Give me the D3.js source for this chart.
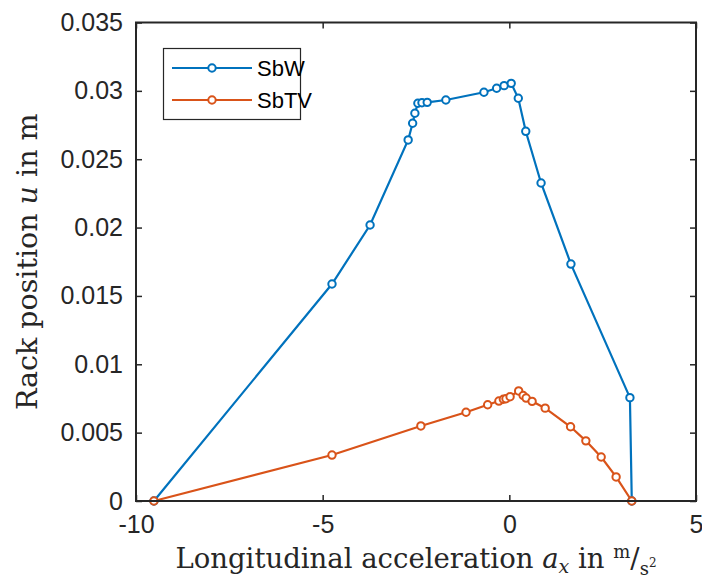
<!DOCTYPE html>
<html>
<head>
<meta charset="utf-8">
<script src="https://cdn.jsdelivr.net/npm/d3@7"></script>
<style>
  html, body { margin: 0; padding: 0; background: #fff; }
  svg { display: block; }
</style>
</head>
<body>
<div id="chart"></div>
<script>
// longitudinal acceleration (m/s^2) and rack position (m)
const sbwX = [-9.52, -4.75, -3.73, -2.71, -2.59, -2.53, -2.45, -2.34, -2.20, -1.70, -0.68, -0.34, -0.14, 0.05, 0.24, 0.44, 0.85, 1.65, 3.23, 3.28];
const sbwY = [0, 0.01587, 0.02019, 0.02641, 0.02763, 0.02836, 0.02909, 0.02913, 0.02916, 0.02933, 0.0299, 0.03019, 0.03038, 0.03055, 0.02946, 0.02704, 0.02326, 0.01733, 0.00756, 0];

const sbtvX = [-9.52, -4.75, -2.37, -1.16, -0.58, -0.28, -0.16, -0.09, 0.02, 0.25, 0.37, 0.45, 0.61, 0.96, 1.64, 2.05, 2.46, 2.86, 3.28];
const sbtvY = [0, 0.00336, 0.00549, 0.00649, 0.00704, 0.00731, 0.00744, 0.00748, 0.00763, 0.00805, 0.00772, 0.00753, 0.00729, 0.00679, 0.00543, 0.0044, 0.00322, 0.00176, 0];

const seriesNames = ['SbW', 'SbTV'];
const seriesColors = ['#0072BD', '#D95319'];

const xTicks = [-10, -5, 0, 5];
const xTickLabels = ['-10', '-5', '0', '5'];
const yTicks = [0, 0.005, 0.01, 0.015, 0.02, 0.025, 0.03, 0.035];
const yTickLabels = ['0', '0.005', '0.01', '0.015', '0.02', '0.025', '0.03', '0.035'];

const W = 702, H = 581;
const margin = { top: 22.5, right: 6, bottom: 80, left: 136 };
const axisColor = '#262626';

const svg = d3.select('#chart').append('svg').attr('width', W).attr('height', H);

const x = d3.scaleLinear().domain([-10, 5]).range([margin.left, W - margin.right]);
const y = d3.scaleLinear().domain([0, 0.035]).range([H - margin.bottom, margin.top]);

const x0 = x.range()[0], x1 = x.range()[1];
const y0 = y.range()[0], y1 = y.range()[1];

// Lines + markers
const series = [
  { name: seriesNames[0], color: seriesColors[0], pts: sbwX.map((v, i) => [v, sbwY[i]]) },
  { name: seriesNames[1], color: seriesColors[1], pts: sbtvX.map((v, i) => [v, sbtvY[i]]) }
];

const line = d3.line().x(d => x(d[0])).y(d => y(d[1]));

series.forEach(s => {
  svg.append('path')
    .datum(s.pts)
    .attr('d', line)
    .attr('fill', 'none')
    .attr('stroke', s.color)
    .attr('stroke-width', 2.2);
});
series.forEach(s => {
  svg.append('g').selectAll('circle')
    .data(s.pts)
    .join('circle')
    .attr('cx', d => x(d[0]))
    .attr('cy', d => y(d[1]))
    .attr('r', 3.7)
    .attr('fill', '#fff')
    .attr('stroke', s.color)
    .attr('stroke-width', 2);
});

// Axes box with inward ticks
const xAxisB = d3.axisBottom(x).tickValues(xTicks).tickSizeInner(-6).tickSizeOuter(0)
  .tickFormat((d, i) => xTickLabels[i]).tickPadding(14);
const xAxisT = d3.axisTop(x).tickValues(xTicks).tickSizeInner(-6).tickSizeOuter(0).tickFormat('');
const yAxisL = d3.axisLeft(y).tickValues(yTicks).tickSizeInner(-6).tickSizeOuter(0)
  .tickFormat((d, i) => yTickLabels[i]).tickPadding(13);
const yAxisR = d3.axisRight(y).tickValues(yTicks).tickSizeInner(-6).tickSizeOuter(0).tickFormat('');

function styleAxis(g) {
  g.select('.domain').remove();
  g.selectAll('line').attr('stroke', axisColor).attr('stroke-width', 1.5);
  g.selectAll('text')
    .attr('fill', axisColor)
    .attr('font-family', '"Liberation Sans", Arial, sans-serif')
    .attr('font-size', '25px');
}

svg.append('g').attr('transform', `translate(0,${y0})`).call(xAxisB).call(styleAxis);
svg.append('g').attr('transform', `translate(0,${y1})`).call(xAxisT).call(styleAxis);
svg.append('g').attr('transform', `translate(${x0},0)`).call(yAxisL).call(styleAxis);
svg.append('g').attr('transform', `translate(${x1},0)`).call(yAxisR).call(styleAxis);

svg.append('rect')
  .attr('x', x0).attr('y', y1)
  .attr('width', x1 - x0).attr('height', y0 - y1)
  .attr('fill', 'none')
  .attr('stroke', axisColor)
  .attr('stroke-width', 2);

// Axis labels (LaTeX-like)
const serif = '"DejaVu Serif", "Liberation Serif", serif';

const xl = svg.append('text')
  .attr('x', (x0 + x1) / 2).attr('y', 568)
  .attr('text-anchor', 'middle')
  .attr('font-family', serif)
  .attr('font-size', '27.5px')
  .attr('fill', axisColor);
xl.append('tspan').text('Longitudinal acceleration ');
xl.append('tspan').attr('font-style', 'italic').text('a');
xl.append('tspan').attr('font-style', 'italic').attr('font-size', '19px').attr('dy', 5).text('x');
xl.append('tspan').attr('dy', -5).text(' in ');
xl.append('tspan').attr('font-size', '18px').attr('dy', -10).text('m');
xl.append('tspan').attr('dy', 10).text('/');
xl.append('tspan').attr('font-size', '18px').attr('dy', 7).text('s');
xl.append('tspan').attr('font-size', '12px').attr('dy', -8).text('2');

const yl = svg.append('text')
  .attr('transform', `translate(37,${(y0 + y1) / 2}) rotate(-90)`)
  .attr('text-anchor', 'middle')
  .attr('font-family', serif)
  .attr('font-size', '28.5px')
  .attr('fill', axisColor);
yl.append('tspan').text('Rack position ');
yl.append('tspan').attr('font-style', 'italic').text('u');
yl.append('tspan').text(' in m');

// Legend
const legend = svg.append('g');
legend.append('rect')
  .attr('x', 163.5).attr('y', 48.5)
  .attr('width', 137).attr('height', 71)
  .attr('fill', '#fff')
  .attr('stroke', axisColor)
  .attr('stroke-width', 1.2);

series.forEach((s, i) => {
  const ly = 68 + i * 32;
  legend.append('line')
    .attr('x1', 172).attr('x2', 252)
    .attr('y1', ly).attr('y2', ly)
    .attr('stroke', s.color).attr('stroke-width', 2.2);
  legend.append('circle')
    .attr('cx', 212).attr('cy', ly).attr('r', 3.7)
    .attr('fill', '#fff').attr('stroke', s.color).attr('stroke-width', 2);
  legend.append('text')
    .attr('x', 257).attr('y', ly + 8)
    .attr('font-family', '"Liberation Sans", Arial, sans-serif')
    .attr('font-size', '22px')
    .attr('fill', '#000')
    .text(s.name);
});
</script>
</body>
</html>
